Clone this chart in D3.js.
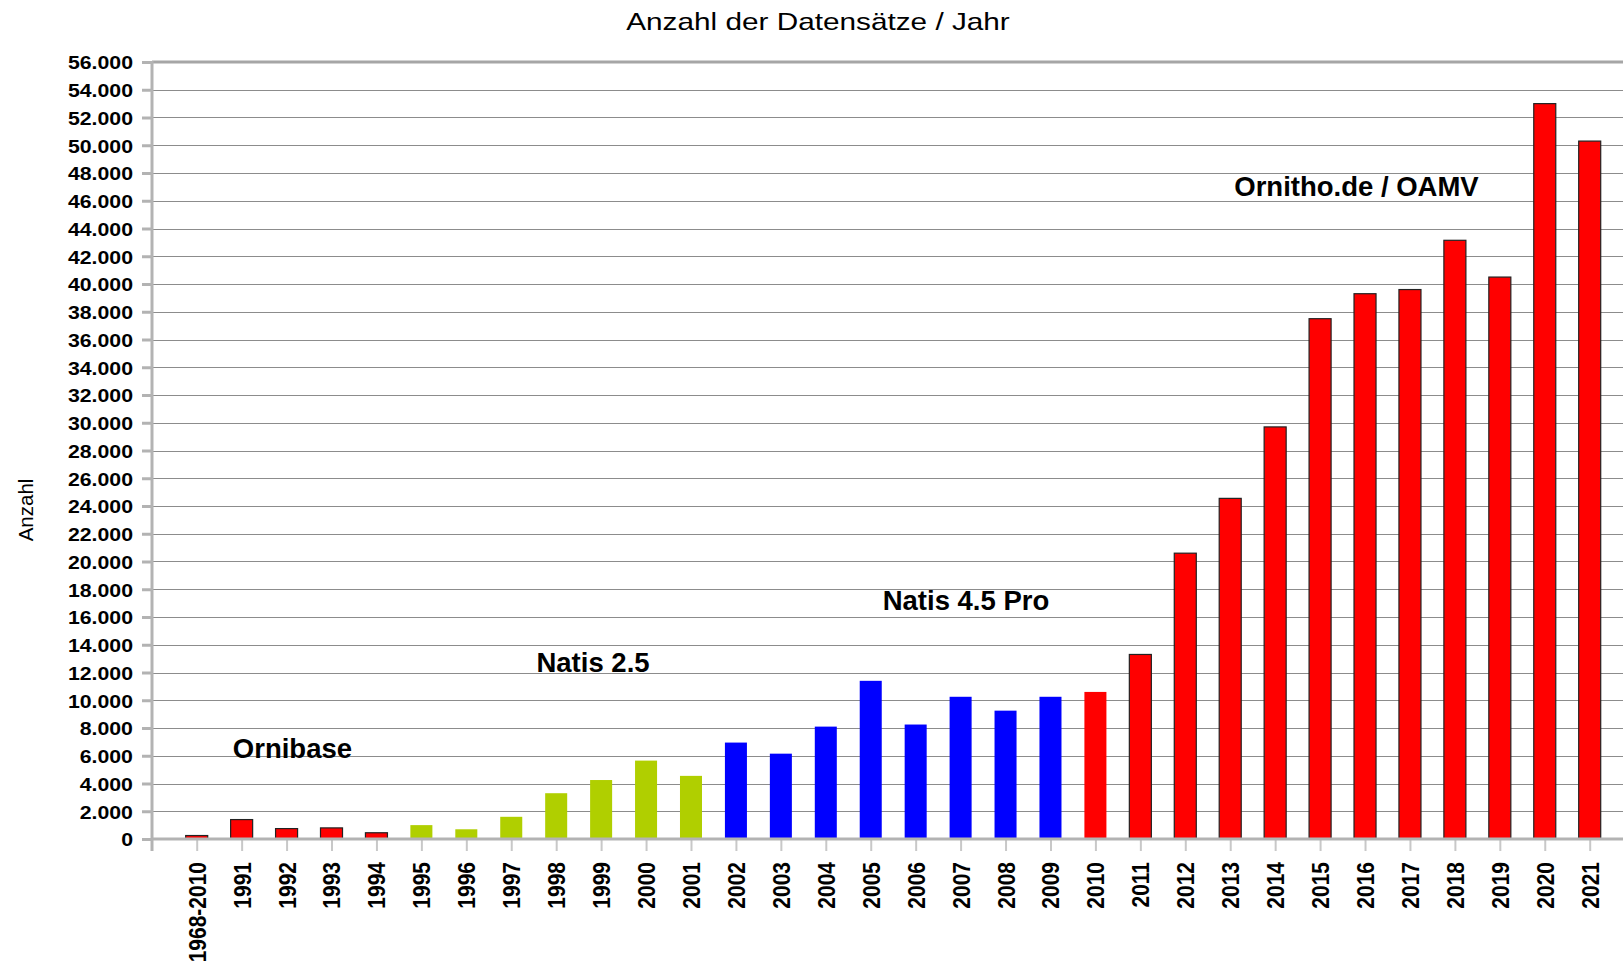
<!DOCTYPE html>
<html>
<head>
<meta charset="utf-8">
<script src="https://cdn.jsdelivr.net/npm/d3@7"></script>
<style>
  body { margin: 0; background: #fff; }
  svg { display: block; font-family: "Liberation Sans", Arial, sans-serif; }
</style>
</head>
<body>
<div id="container"></div>
<script>

// Categories (years) and number of records per year
const categories = ["1968-2010", "1991", "1992", "1993", "1994", "1995", "1996", "1997",
  "1998", "1999", "2000", "2001", "2002", "2003", "2004", "2005", "2006", "2007", "2008",
  "2009", "2010", "2011", "2012", "2013", "2014", "2015", "2016", "2017", "2018", "2019",
  "2020", "2021"];

const values = [250, 1400, 750, 800, 450, 1000, 700, 1600, 3300, 4250, 5650, 4550,
  6950, 6150, 8100, 11400, 8250, 10250, 9250, 10250, 10600, 13300, 20600, 24550,
  29700, 37500, 39300, 39600, 43150, 40500, 53000, 50300];

// Which software the records came from
const systems = ["Ornibase", "Ornibase", "Ornibase", "Ornibase", "Ornibase",
  "Natis 2.5", "Natis 2.5", "Natis 2.5", "Natis 2.5", "Natis 2.5", "Natis 2.5", "Natis 2.5",
  "Natis 4.5 Pro", "Natis 4.5 Pro", "Natis 4.5 Pro", "Natis 4.5 Pro", "Natis 4.5 Pro",
  "Natis 4.5 Pro", "Natis 4.5 Pro", "Natis 4.5 Pro",
  "Übergang",
  "Ornitho.de / OAMV", "Ornitho.de / OAMV", "Ornitho.de / OAMV", "Ornitho.de / OAMV",
  "Ornitho.de / OAMV", "Ornitho.de / OAMV", "Ornitho.de / OAMV", "Ornitho.de / OAMV",
  "Ornitho.de / OAMV", "Ornitho.de / OAMV", "Ornitho.de / OAMV"];

// Text labels inside the plot (category they sit near, value of their baseline)
const labelTexts = ["Ornibase", "Natis 2.5", "Natis 4.5 Pro", "Ornitho.de / OAMV"];
const labelCategories = ["1992", "1999", "2007", "2016"];
const labelValues = [5840, 12040, 16500, 46340];

const yMax = 56000;
const yStep = 2000;

const width = 1623;
const height = 970;

const marginTop = 62;
const marginLeft = 152;
const marginBottom = 131;

const plotBottom = height - marginBottom;

// x: one point per category
const x = d3.scalePoint()
    .domain(categories)
    .range([196.7, 1589.7]);

const barWidth = x.step() * 0.49;

const y = d3.scaleLinear()
    .domain([0, yMax])
    .range([plotBottom, marginTop]);

const color = d3.scaleOrdinal()
    .domain(["Ornibase", "Natis 2.5", "Natis 4.5 Pro", "Übergang", "Ornitho.de / OAMV"])
    .range(["#ff0000", "#b0cf00", "#0000ff", "#ff0000", "#ff0000"]);

const outlined = new Set(["Ornibase", "Ornitho.de / OAMV"]);

const de = d3.formatLocale({decimal: ",", thousands: ".", grouping: [3], currency: ["", " €"]});
const fmt = de.format(",d");

const svg = d3.create("svg")
    .attr("width", width)
    .attr("height", height);

container.append(svg.node());

svg.append("rect")
    .attr("width", width)
    .attr("height", height)
    .attr("fill", "#fff");

// Title
svg.append("text")
    .attr("transform", `translate(818,30) scale(1.24,1)`)
    .attr("text-anchor", "middle")
    .attr("font-size", 24)
    .attr("fill", "#000")
    .text("Anzahl der Datensätze / Jahr");

// Horizontal grid lines
svg.append("g")
  .selectAll("line")
  .data(d3.range(yStep, yMax, yStep))
  .join("line")
    .attr("x1", marginLeft)
    .attr("x2", width)
    .attr("y1", d => Math.round(y(d)) + 0.5)
    .attr("y2", d => Math.round(y(d)) + 0.5)
    .attr("stroke", "#8c8c8c")
    .attr("stroke-width", 1);

// Top border
svg.append("line")
    .attr("x1", marginLeft)
    .attr("x2", width)
    .attr("y1", y(yMax))
    .attr("y2", y(yMax))
    .attr("stroke", "#a6a6a6")
    .attr("stroke-width", 3);

// x axis ticks and labels
const xAxis = svg.append("g")
    .attr("transform", `translate(0,${plotBottom})`)
    .call(d3.axisBottom(x).tickSize(12).tickSizeOuter(0));

xAxis.select(".domain").remove();
xAxis.selectAll(".tick line")
    .attr("stroke", "#c8c8c8")
    .attr("stroke-width", 2);
xAxis.selectAll(".tick text")
    .attr("y", null)
    .attr("dy", "0.36em")
    .attr("text-anchor", "end")
    .attr("transform", "translate(0,23) scale(1.12,1) rotate(-90)")
    .attr("font-size", 21)
    .attr("font-weight", "bold")
    .attr("font-family", "Liberation Sans, Arial, sans-serif")
    .attr("fill", "#000");

// Bars
svg.append("g")
  .selectAll("rect")
  .data(values)
  .join("rect")
    .attr("x", (d, i) => x(categories[i]) - barWidth / 2)
    .attr("y", d => y(d))
    .attr("width", barWidth)
    .attr("height", d => y(0) - y(d))
    .attr("fill", (d, i) => color(systems[i]))
    .attr("stroke", (d, i) => outlined.has(systems[i]) ? "#222" : "none")
    .attr("stroke-width", 1.2);

// Baseline
svg.append("line")
    .attr("x1", marginLeft)
    .attr("x2", width)
    .attr("y1", plotBottom)
    .attr("y2", plotBottom)
    .attr("stroke", "#b3b3b3")
    .attr("stroke-width", 3);

// y axis
const yAxis = svg.append("g")
    .attr("transform", `translate(${marginLeft},0)`)
    .call(d3.axisLeft(y).tickValues(d3.range(0, yMax + 1, yStep)).tickFormat(fmt).tickSize(10).tickSizeOuter(0));

yAxis.select(".domain")
    .attr("d", `M0,${marginTop - 1}V${plotBottom + 12}`)
    .attr("stroke", "#b3b3b3")
    .attr("stroke-width", 3);
yAxis.selectAll(".tick line")
    .attr("stroke", "#b3b3b3")
    .attr("stroke-width", 3);
yAxis.selectAll(".tick text")
    .attr("x", -17)
    .attr("dy", "0.36em")
    .attr("transform", "scale(1.12,1)")
    .attr("font-size", 19)
    .attr("font-weight", "bold")
    .attr("font-family", "Liberation Sans, Arial, sans-serif")
    .attr("fill", "#000");

// y axis title
svg.append("text")
    .attr("transform", `translate(26,510) rotate(-90)`)
    .attr("text-anchor", "middle")
    .attr("dy", "0.36em")
    .attr("font-size", 20.5)
    .attr("fill", "#000")
    .text("Anzahl");

// Labels for the software eras
const labelOffsets = [0.13, -0.18, 0.12, -0.19];
svg.append("g")
  .selectAll("text")
  .data(labelTexts)
  .join("text")
    .attr("x", (d, i) => x(labelCategories[i]) + labelOffsets[i] * x.step())
    .attr("y", (d, i) => y(labelValues[i]))
    .attr("text-anchor", "middle")
    .attr("font-size", 27.5)
    .attr("font-weight", "bold")
    .attr("fill", "#000")
    .text(d => d);

</script>
</body>
</html>
